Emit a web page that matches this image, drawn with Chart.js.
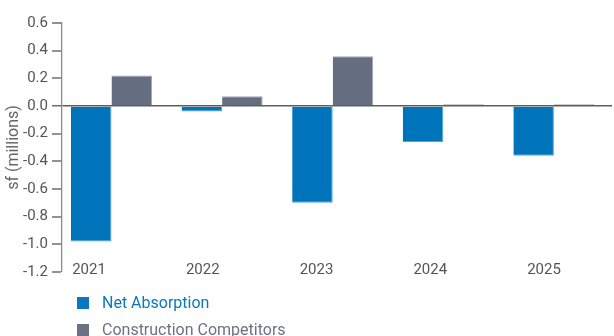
<!DOCTYPE html>
<html>
<head>
<meta charset="utf-8">
<title>Net Absorption vs Construction Competitors</title>
<script src="https://cdn.jsdelivr.net/npm/chart.js@4/dist/chart.umd.min.js"></script>
<style>
  html, body { margin: 0; padding: 0; background: #ffffff; }
  #wrap { width: 614px; height: 336px; }
</style>
</head>
<body>
<div id="wrap"><canvas id="chart" width="614" height="336"></canvas></div>
<script>
// Years shown on the category axis
const years = ['2021', '2022', '2023', '2024', '2025'];

// Values in millions of square feet
const netAbsorption = [-0.98, -0.04, -0.70, -0.26, -0.36];
const constructionCompetitors = [0.22, 0.07, 0.36, 0.01, 0.01];

// Value axis range and step
const yMin = -1.2;
const yMax = 0.6;
const yStep = 0.2;

const BLUE = '#0074bb';
const SLATE = '#646e80';
const FONT = 'Roboto, "Open Sans", Arial, sans-serif';

const toPoints = arr => arr.map((v, i) => ({ x: i, y: v }));
const yearTicks = axis => { axis.ticks = years.map((_, i) => ({ value: i })); };

// Two-row legend under the plot, left aligned with the first bar group
const stackedLegend = {
  id: 'stackedLegend',
  afterDraw(chart) {
    const { ctx, chartArea } = chart;
    ctx.save();
    ctx.font = '16px ' + FONT;
    ctx.textBaseline = 'middle';
    ctx.textAlign = 'left';
    chart.data.datasets.forEach((ds, i) => {
      const cy = chartArea.bottom + 31 + i * 27;
      const bx = chartArea.left + 15;
      ctx.fillStyle = ds.legendColor;
      ctx.fillRect(bx, cy - 6, 12, 12);
      ctx.fillText(ds.label, bx + 25, cy + 1);
    });
    ctx.restore();
  }
};

new Chart(document.getElementById('chart'), {
  type: 'bar',
  data: {
    datasets: [
      {
        label: 'Net Absorption',
        data: toPoints(netAbsorption),
        legendColor: '#0a78c0',
        backgroundColor: BLUE,
        borderColor: '#4fa3d8',
        borderWidth: { top: 1, right: 1, bottom: 1, left: 0 },
        borderSkipped: 'start',
        xAxisID: 'x'
      },
      {
        label: 'Construction Competitors',
        data: toPoints(constructionCompetitors),
        legendColor: '#6a7283',
        backgroundColor: c => (Math.abs(c.raw ? c.raw.y : 0) < 0.02 ? '#3a3e46' : SLATE),
        borderColor: c => (Math.abs(c.raw ? c.raw.y : 0) < 0.02 ? '#3a3e46' : '#a3a9b4'),
        borderWidth: { top: 1, right: 1, bottom: 1, left: 0 },
        borderSkipped: 'start',
        xAxisID: 'x'
      }
    ]
  },
  options: {
    responsive: false,
    animation: false,
    categoryPercentage: 0.733,
    barPercentage: 1.0,
    layout: { padding: { top: 23, right: 2, bottom: 64, left: 0 } },
    plugins: {
      legend: { display: false },
      tooltip: { enabled: false }
    },
    scales: {
      // axis that places the bar groups
      x: {
        type: 'linear',
        position: 'bottom',
        display: false,
        offset: false,
        min: -0.4476,
        max: 4.5253,
        afterBuildTicks: yearTicks
      },
      // axis that carries the year labels, drawn just above the plot floor
      xl: {
        type: 'linear',
        axis: 'x',
        position: 'bottom',
        offset: false,
        min: -0.2374,
        max: 4.5978,
        afterBuildTicks: yearTicks,
        grid: { display: false, drawTicks: false },
        border: { display: false },
        ticks: {
          mirror: true,
          padding: -7,
          color: '#555555',
          font: { family: FONT, size: 15 },
          maxRotation: 0,
          autoSkip: false,
          callback: v => years[v]
        }
      },
      y: {
        min: yMin,
        max: yMax,
        afterFit: s => { s.width = 62; },
        ticks: {
          stepSize: yStep,
          padding: 4,
          color: '#555555',
          font: { family: FONT, size: 15 },
          callback: v => (Math.abs(v) < 1e-9 ? '0.0' : v.toFixed(1))
        },
        grid: {
          drawTicks: true,
          tickLength: 10,
          tickColor: '#4a4a4a',
          tickWidth: 1.2,
          lineWidth: c => (Math.abs(c.tick.value) < 1e-9 ? 1.6 : 0),
          color: c => (Math.abs(c.tick.value) < 1e-9 ? '#5e5e5e' : 'rgba(0,0,0,0)')
        },
        border: { display: true, color: '#8c8c8c', width: 1.3 },
        title: {
          display: true,
          text: 'sf (millions)',
          color: '#666666',
          font: { family: FONT, size: 16 },
          padding: { top: 4, bottom: 4 }
        }
      }
    }
  },
  plugins: [stackedLegend]
});
</script>
</body>
</html>
